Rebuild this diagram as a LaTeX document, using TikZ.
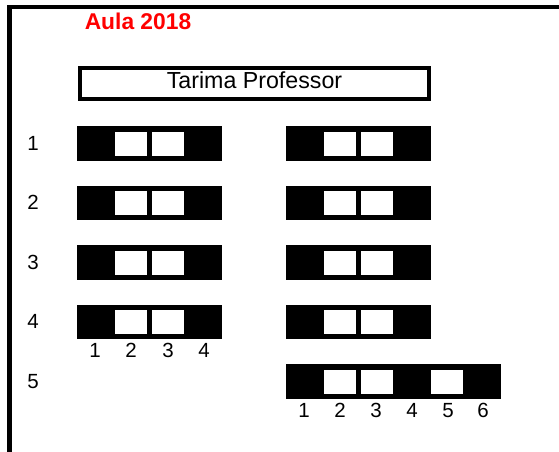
\documentclass[tikz,border=0pt]{standalone}
\usepackage{fontspec}
\setmainfont{Liberation Sans}
\usepackage{xcolor}
\usepackage{tikz}
\usetikzlibrary{positioning}
\definecolor{aulaRed}{RGB}{255,0,0}

\begin{document}
\begin{tikzpicture}[x=1pt, y=-1pt,
  seat/.style={fill=white},
  numlab/.style={inner sep=0pt, font=\fontsize{20.5}{24}\selectfont}]

\useasboundingbox (0,0) rectangle (559,452);

% Walls (top and left)
\draw[line width=4.5pt] (9.5,452) -- (9.5,7) -- (559,7);

% Title
\node[aulaRed, inner sep=0pt, font=\bfseries\fontsize{22.8}{26}\selectfont] (titulo) at (138,21) {Aula 2018};

% Teacher platform
\node[draw, line width=4pt, minimum width=349pt, minimum height=31pt, inner sep=0pt,
      text height=14.5pt, text depth=4.5pt, font=\fontsize{23.2}{27}\selectfont]
      (tarima) at (254.5,83.5) {Tarima Professor};

% Rows 1-4: left and right desks
\foreach \r/\y in {1/126,2/185.5,3/245,4/304.5} {
  \fill (77,\y) rectangle (222,\y+34.5);
  \fill[seat] (115,\y+5.5) rectangle (147,\y+29.5);
  \fill[seat] (152,\y+5.5) rectangle (184,\y+29.5);
  \fill (286,\y) rectangle (431,\y+34.5);
  \fill[seat] (324,\y+5.5) rectangle (356,\y+29.5);
  \fill[seat] (361,\y+5.5) rectangle (393,\y+29.5);
  \node[numlab] (fila\r) at (33,\y+17.25) {\r};
}

% Seat numbers under row 4
\foreach \i/\x in {1/95,2/131,3/168,4/204}
  \node[numlab] (lugarA\i) at (\x,350) {\i};

% Row 5: long desk on the right
\fill (286,364) rectangle (501,398.5);
\fill[seat] (324,369.5) rectangle (356,393.5);
\fill[seat] (361,369.5) rectangle (393,393.5);
\fill[seat] (431,369.5) rectangle (463,393.5);
\node[numlab] (fila5) at (33,381.5) {5};

% Seat numbers under row 5
\foreach \i/\x in {1/304,2/340,3/376,4/412,5/448,6/483}
  \node[numlab] (lugarB\i) at (\x,410.5) {\i};

\end{tikzpicture}
\end{document}
